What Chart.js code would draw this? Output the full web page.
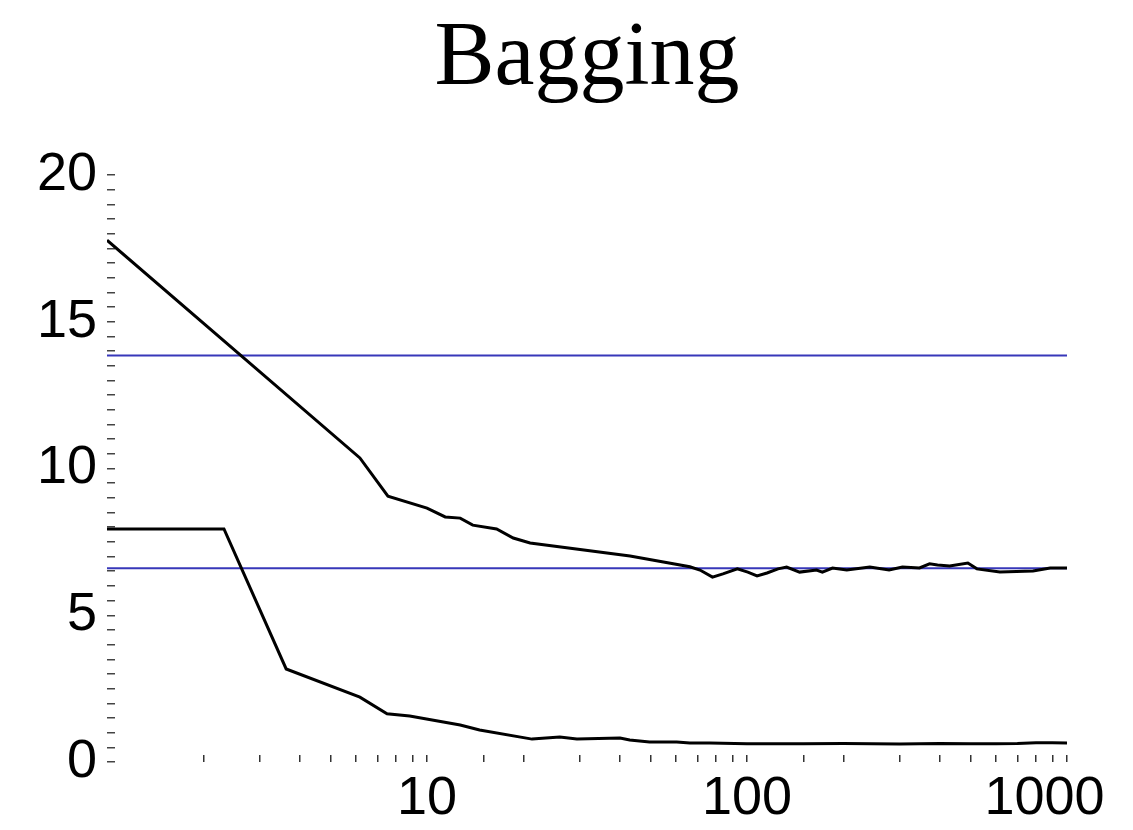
<!DOCTYPE html>
<html>
<head>
<meta charset="utf-8">
<script src="https://cdn.jsdelivr.net/npm/chart.js@4.4.1/dist/chart.umd.min.js"></script>
<style>
  body { margin: 0; background: #fff; }
  #wrap { width: 1133px; height: 830px; position: relative; }
</style>
</head>
<body>
<div id="wrap"><canvas id="chart"></canvas></div>
<script>
// upper curve (test error)
const upperX = [1, 6.17, 7.55, 10.0, 11.4, 12.7, 13.9, 16.5, 18.6, 21.0, 43.1, 66.3, 71.3, 78.0, 84.1, 93.3,
    100.6, 107.5, 115.5, 125, 133, 146, 165, 172, 185, 205, 242, 278, 306, 346, 372, 394, 430, 490, 523,
    617, 783, 886, 1000];
const upperY = [17.78, 10.36, 9.06, 8.65, 8.35, 8.31, 8.07, 7.94, 7.63, 7.46, 7.02, 6.65, 6.54, 6.30, 6.41, 6.58,
    6.47, 6.34, 6.44, 6.58, 6.64, 6.47, 6.54, 6.47, 6.61, 6.54, 6.64, 6.54, 6.64, 6.61, 6.75, 6.71, 6.68, 6.78, 6.58,
    6.47, 6.51, 6.61, 6.61];

// lower curve (training error)
const lowerX = [1, 2.32, 3.63, 6.17, 7.5, 8.83, 12.7, 14.6, 21.3, 26.0, 29.4, 40.1, 43.0, 49.6, 60.3, 66.3, 76.6,
    100, 150, 200, 300, 400, 500, 600, 700, 800, 900, 1000];
const lowerY = [7.94, 7.94, 3.17, 2.21, 1.64, 1.57, 1.26, 1.09, 0.78, 0.85, 0.78, 0.82, 0.75, 0.68, 0.68, 0.65, 0.65,
    0.62, 0.62, 0.63, 0.61, 0.63, 0.62, 0.62, 0.63, 0.66, 0.66, 0.65, 0.63];

// horizontal reference levels (blue)
const refLevels = [13.85, 6.6];
const xRange = [1, 1000];

const xLabels = [10, 100, 1000];

function toPoints(xs, ys) {
    return xs.map((x, i) => ({ x: x, y: ys[i] }));
}

const datasets = [
    { data: toPoints(upperX, upperY), borderColor: '#000', borderWidth: 3 },
    { data: toPoints(lowerX, lowerY), borderColor: '#000', borderWidth: 3 }
];
refLevels.forEach(level => {
    datasets.push({
        data: xRange.map(x => ({ x: x, y: level })),
        borderColor: 'rgb(55,55,185)',
        borderWidth: 2
    });
});

const ctx = document.getElementById('chart').getContext('2d');
new Chart(ctx, {
    type: 'line',
    data: { datasets: datasets },
    options: {
        responsive: true,
        maintainAspectRatio: false,
        animation: false,
        layout: { padding: { left: 0, right: 66, top: 0, bottom: 0 } },
        elements: {
            point: { radius: 0 },
            line: { tension: 0 }
        },
        plugins: {
            legend: { display: false },
            tooltip: { enabled: false },
            title: {
                display: true,
                fullSize: false,
                text: 'Bagging',
                color: '#000',
                font: { family: 'Liberation Serif', size: 90, weight: 'normal' },
                padding: { top: 6, bottom: 61 }
            }
        },
        scales: {
            x: {
                type: 'logarithmic',
                min: xRange[0],
                max: xRange[1],
                border: { display: false },
                grid: { drawOnChartArea: false, drawTicks: true, tickLength: -7, color: '#333', lineWidth: 1.5 },
                ticks: {
                    autoSkip: false,
                    maxRotation: 0,
                    color: '#000',
                    padding: 12,
                    font: { family: 'Liberation Sans', size: 54 },
                    // last label sits a little left of its tick, like the original
                    callback: v => xLabels.includes(v) ? (v === 1000 ? '1000   ' : String(v)) : ''
                },
                afterBuildTicks: scale => { scale.ticks = scale.ticks.filter(t => t.value > 1); },
                afterFit: scale => {
                    scale.height = 68;
                    scale.paddingRight = 0;
                }
            },
            y: {
                type: 'linear',
                min: 0,
                max: 20,
                border: { display: false },
                grid: { drawOnChartArea: false, drawTicks: true, tickLength: -8, color: '#444', lineWidth: 1.5 },
                ticks: {
                    stepSize: 0.5,
                    autoSkip: false,
                    color: '#000',
                    padding: 18,
                    font: { family: 'Liberation Sans', size: 54 },
                    callback: v => (v % 5 === 0) ? String(v) : ''
                },
                afterFit: scale => { scale.width = 107; }
            }
        }
    }
});
</script>
</body>
</html>
